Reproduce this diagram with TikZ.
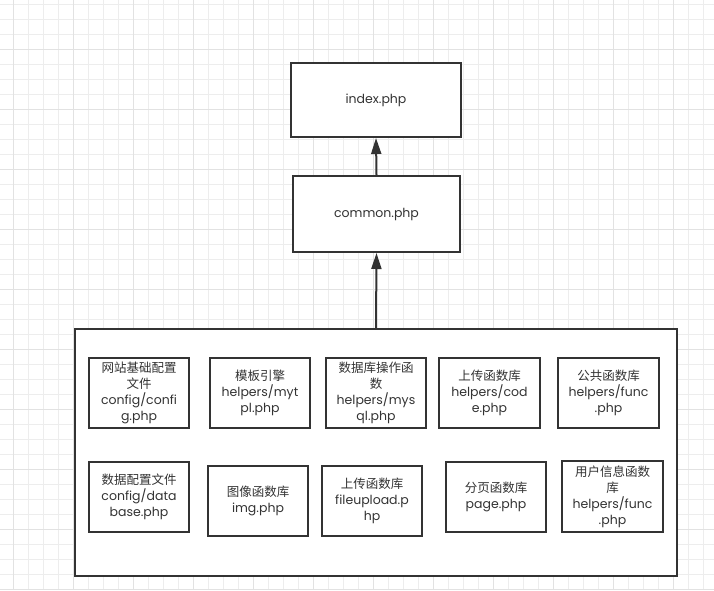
\documentclass[tikz,border=0pt]{standalone}
\usepackage{fontspec}
\setmainfont{Poppins}
\newfontfamily\cjk{Noto Sans CJK SC}
\usetikzlibrary{arrows.meta}
\definecolor{ink}{HTML}{333333}
\definecolor{gridminor}{HTML}{EDEDED}
\definecolor{gridmajor}{HTML}{E2E2E2}
\begin{document}
\begin{tikzpicture}[x=1pt,y=-1pt,
  filebox/.style={draw=ink,line width=2pt,fill=white,text=ink,align=center,
    inner sep=0pt,font=\fontsize{12.5}{16}\selectfont},
  link/.style={draw=ink,line width=2pt,-{Triangle[length=16pt,width=10pt]}}]
\useasboundingbox (0,0) rectangle (714,590);
\fill[white] (0,0) rectangle (714,590);
% grid
\foreach \gx in {13,28,...,713} {\draw[gridminor,line width=1pt] (\gx,0) -- (\gx,590);}
\foreach \gy in {4,19,...,589} {\draw[gridminor,line width=1pt] (0,\gy) -- (714,\gy);}
\foreach \gx in {13,73,...,713} {\draw[gridmajor,line width=1pt] (\gx,0) -- (\gx,590);}
\foreach \gy in {49,109,...,589} {\draw[gridmajor,line width=1pt] (0,\gy) -- (714,\gy);}
% top boxes
\node[filebox,minimum width=170pt,minimum height=74pt] (index) at (376,100) {index.php};
\node[filebox,minimum width=167pt,minimum height=76pt] (common) at (376.5,214) {common.php};
% outer container
\node[filebox,minimum width=602pt,minimum height=247pt] (outer) at (376,452.5) {};
% row 1
\node[filebox,minimum width=100pt,minimum height=70pt] (b1) at (139,393) {{\cjk 网站基础配置}\\{\cjk 文件}\\config/confi\\g.php};
\node[filebox,minimum width=100pt,minimum height=70pt] (b2) at (260,393) {{\cjk 模板引擎}\\helpers/myt\\pl.php};
\node[filebox,minimum width=100pt,minimum height=70pt] (b3) at (376,393) {{\cjk 数据库操作函}\\{\cjk 数}\\helpers/mys\\ql.php};
\node[filebox,minimum width=101pt,minimum height=70pt] (b4) at (489.5,393) {{\cjk 上传函数库}\\helpers/cod\\e.php};
\node[filebox,minimum width=101pt,minimum height=70pt] (b5) at (608.5,393) {{\cjk 公共函数库}\\helpers/func\\.php};
% row 2
\node[filebox,minimum width=100pt,minimum height=70pt] (b6) at (139,497) {{\cjk 数据配置文件}\\config/data\\base.php};
\node[filebox,minimum width=100pt,minimum height=70pt] (b7) at (258,501) {{\cjk 图像函数库}\\img.php};
\node[filebox,minimum width=100pt,minimum height=70pt] (b8) at (372,501) {{\cjk 上传函数库}\\fileupload.p\\hp};
\node[filebox,minimum width=100pt,minimum height=70pt] (b9) at (496,497) {{\cjk 分页函数库}\\page.php};
\node[filebox,minimum width=101pt,minimum height=71pt] (b10) at (612.5,496.5) {{\cjk 用户信息函数}\\{\cjk 库}\\helpers/func\\.php};
% arrows
\draw[link] (outer.north) -- (common.south);
\draw[link] (common.north) -- (index.south);
\end{tikzpicture}
\end{document}
